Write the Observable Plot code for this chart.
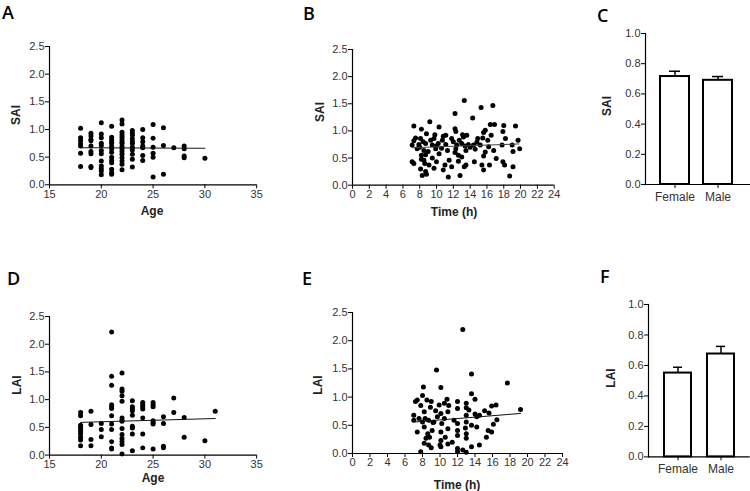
<!DOCTYPE html>
<html>
<head>
<meta charset="utf-8">
<script src="https://cdn.jsdelivr.net/npm/d3@7"></script>
<script src="https://cdn.jsdelivr.net/npm/@observablehq/plot@0.6"></script>
<style>
  body { margin: 0; background: #fff; }
  #fig { position: relative; width: 750px; height: 491px; overflow: hidden; }
</style>
</head>
<body>
<div id="fig"></div>
<script>
// A: SAI by age (values grouped per age column)
const aAge = [18, 19, 20, 21, 22, 23, 24, 25, 26, 27, 28, 30]
const aSAI = [
  [1.02, 0.85, 0.80, 0.74, 0.70, 0.57, 0.33],
  [0.93, 0.88, 0.82, 0.79, 0.70, 0.60, 0.56, 0.33, 0.31],
  [1.12, 0.92, 0.85, 0.75, 0.71, 0.62, 0.56, 0.43, 0.34, 0.29, 0.25, 0.18],
  [1.06, 0.86, 0.81, 0.77, 0.74, 0.69, 0.65, 0.59, 0.50, 0.44, 0.40, 0.28, 0.22, 0.19],
  [1.17, 1.10, 0.95, 0.90, 0.86, 0.81, 0.77, 0.74, 0.69, 0.65, 0.60, 0.55, 0.49, 0.43, 0.37, 0.27],
  [0.98, 0.93, 0.89, 0.83, 0.78, 0.74, 0.68, 0.63, 0.55, 0.46, 0.32],
  [1.00, 0.85, 0.78, 0.70, 0.67, 0.53, 0.44],
  [1.09, 0.84, 0.68, 0.57, 0.50, 0.14],
  [1.03, 0.71, 0.19],
  [0.67],
  [0.70, 0.65, 0.52, 0.49],
  [0.48]
]
const aFit = [[18, 0.67], [30, 0.66]]

// B: SAI by time of day
const bTime = [13.3, 16.7, 15.3, 12.2, 14.3, 7.3, 9.2, 8.2, 10.3, 12.2, 12.3, 16.4, 16.9, 18.0, 19.4, 15.8, 15.6, 17.9,
  8.8, 9.8, 11.1, 13.1, 13.2, 13.6, 7.5, 8.1, 9.7, 10.7, 11.8, 14.9, 15.5, 16.1, 18.2, 19.7, 7.1, 7.9, 8.7, 9.5,
  10.2, 11.1, 12.4, 13.0, 13.8, 14.4, 15.2, 16.2, 17.8, 19.0, 19.9, 7.7, 8.5, 9.9, 11.3, 12.3, 13.5, 14.6, 15.8,
  16.8, 19.1, 8.2, 8.7, 10.3, 12.6, 13.0, 15.6, 17.1, 7.3, 8.5, 9.1, 10.0, 11.0, 11.5, 13.5, 12.6, 14.5, 16.3,
  17.9, 18.1, 19.1, 8.1, 8.7, 9.7, 10.8, 11.8, 13.3, 15.4, 15.6, 8.3, 8.8, 11.4, 12.8, 18.7, 7.1,
  8.0, 8.4, 9.0, 9.3, 10.0, 10.6, 12.0, 12.7, 14.0, 14.8, 16.5, 8.2, 8.6, 9.5, 12.2, 7.3, 10.8, 13.4]
const bSAI = [1.56, 1.47, 1.43, 1.32, 1.24, 1.09, 1.17, 1.03, 1.07, 1.04, 0.99, 1.12, 1.12, 1.10, 1.09, 1.01, 0.97, 0.99,
  0.95, 0.93, 0.92, 0.93, 0.89, 0.92, 0.87, 0.86, 0.86, 0.83, 0.86, 0.86, 0.87, 0.83, 0.86, 0.83, 0.74, 0.75, 0.77, 0.74,
  0.77, 0.75, 0.74, 0.77, 0.75, 0.74, 0.74, 0.71, 0.74, 0.74, 0.67, 0.67, 0.64, 0.67, 0.64, 0.67, 0.64, 0.66, 0.61,
  0.64, 0.62, 0.55, 0.56, 0.58, 0.55, 0.52, 0.54, 0.49, 0.40, 0.46, 0.37, 0.43, 0.37, 0.46, 0.37, 0.44, 0.43, 0.37,
  0.43, 0.37, 0.34, 0.30, 0.25, 0.31, 0.28, 0.34, 0.34, 0.37, 0.28, 0.18, 0.20, 0.15, 0.18, 0.17, 0.43,
  0.70, 0.80, 0.62, 0.83, 0.72, 0.68, 0.80, 0.83, 0.70, 0.79, 0.92, 0.48, 0.40, 0.50, 0.60, 0.82, 0.90, 0.72]
const bFit = [[7.1, 0.69], [19.8, 0.76]]

// C: SAI by sex (mean, SEM)
const sexes = ['Female', 'Male']
const cMean = [0.715, 0.69]
const cSem = [0.035, 0.025]

// D: LAI by age
const dAge = [18, 19, 20, 21, 22, 23, 24, 25, 26, 27, 28, 30, 31]
const dLAI = [
  [0.77, 0.71, 0.54, 0.50, 0.46, 0.42, 0.38, 0.32, 0.27, 0.17],
  [0.79, 0.55, 0.28, 0.17],
  [0.57, 0.46, 0.33],
  [2.22, 1.42, 1.26, 0.91, 0.87, 0.84, 0.71, 0.56, 0.46, 0.24, 0.13, 0.11],
  [1.48, 1.19, 1.15, 1.07, 0.97, 0.67, 0.63, 0.61, 0.48, 0.37, 0.30, 0.24, 0.19, 0.02],
  [0.98, 0.87, 0.84, 0.80, 0.72, 0.52, 0.49, 0.38, 0.08],
  [0.95, 0.91, 0.87, 0.83, 0.67, 0.38, 0.13],
  [0.95, 0.91, 0.87, 0.62, 0.59, 0.56, 0.11],
  [0.69, 0.57, 0.16, 0.13],
  [1.03, 0.77],
  [0.68, 0.32],
  [0.26],
  [0.79]
]
const dFit = [[18, 0.59], [31, 0.66]]

// E: LAI by time of day
const eTime = [12.6, 9.6, 13.6, 17.7, 8.1, 10.1, 13.6, 7.4, 7.2, 8.5, 9.0, 10.8, 12.0, 13.0, 14.0, 7.8, 8.9, 9.9, 10.5,
  12.0, 13.0, 13.3, 15.9, 16.4, 8.2, 9.5, 10.1, 10.9, 13.0, 14.0, 15.1, 15.6, 19.2, 7.0, 7.6, 8.7, 9.7, 10.5, 11.6,
  14.2, 14.5, 7.0, 8.0, 9.3, 10.2, 12.0, 13.0, 13.6, 14.2, 16.1, 7.4, 8.2, 8.6, 9.1, 10.1, 10.9, 12.0, 13.0, 15.5,
  8.4, 8.8, 10.1, 10.6, 12.0, 13.0, 15.3, 8.2, 8.7, 10.1, 10.9, 12.0, 13.6, 14.5, 7.8, 12.0, 12.6, 13.0,
  8.0, 9.2, 10.0, 11.0, 12.9, 16.5, 15.9, 11.4, 9.0, 8.3]
const eLAI = [2.20, 1.48, 1.41, 1.25, 1.18, 1.17, 1.06, 0.95, 0.92, 0.95, 0.92, 0.96, 0.92, 0.89, 0.96, 0.85, 0.82, 0.86, 0.89,
  0.80, 0.81, 0.77, 0.84, 0.86, 0.74, 0.76, 0.71, 0.74, 0.68, 0.70, 0.76, 0.72, 0.78, 0.68, 0.62, 0.59, 0.65, 0.62, 0.59,
  0.65, 0.68, 0.59, 0.56, 0.56, 0.53, 0.53, 0.56, 0.50, 0.47, 0.52, 0.38, 0.47, 0.35, 0.41, 0.38, 0.44, 0.41, 0.35, 0.41,
  0.27, 0.29, 0.23, 0.29, 0.32, 0.27, 0.29, 0.18, 0.15, 0.12, 0.17, 0.09, 0.12, 0.15, 0.03, 0.03, 0.06, 0.02,
  1.03, 0.55, 0.15, 0.85, 0.45, 0.60, 0.38, 0.20, 0.10, 0.62]
const eFit = [[7.2, 0.56], [19.2, 0.71]]

// F: LAI by sex (mean, SEM)
const fMean = [0.55, 0.675]
const fSem = [0.038, 0.05]

const ageTicks = [15, 20, 25, 30, 35]
const timeTicks = d3.range(0, 25, 2)
const indexTicks = [0, 0.5, 1.0, 1.5, 2.0, 2.5]
const sexTicks = [0, 0.2, 0.4, 0.6, 0.8, 1.0]

const fig = d3.select('#fig')
const M = {l: 45, r: 8, t: 8, b: 28}
const style = {fontFamily: '"Liberation Sans", Arial, sans-serif', fontSize: '11px', color: '#333', background: 'transparent', overflow: 'visible'}

function place(chart, box) {
  d3.select(chart).style('position', 'absolute')
    .style('left', (box[0] - M.l) + 'px').style('top', (box[2] - M.t) + 'px')
  fig.append(() => chart)
}

function size(box) {
  return {
    width: box[1] - box[0] + M.l + M.r, height: box[3] - box[2] + M.t + M.b,
    marginLeft: M.l, marginRight: M.r, marginTop: M.t, marginBottom: M.b
  }
}

function scatter(box, pts, fit, xDomain, xTicks, fitColor) {
  const chart = Plot.plot({
    ...size(box),
    style,
    x: {domain: xDomain},
    y: {domain: [0, 2.5]},
    marks: [
      Plot.ruleX([xDomain[0]], {stroke: 'black', strokeWidth: 1.2}),
      Plot.ruleY([0], {stroke: 'black', strokeWidth: 1.2}),
      Plot.axisX({ticks: xTicks, tickSize: 4, tickPadding: 1, label: null, stroke: 'black'}),
      Plot.axisY({ticks: indexTicks, tickFormat: d3.format('.1f'), tickSize: 4, tickPadding: 1, label: null, stroke: 'black'}),
      Plot.dot(pts, {x: 'x', y: 'y', r: 2.5, fill: 'black'}),
      Plot.line(fit, {x: d => d[0], y: d => d[1], stroke: fitColor, strokeWidth: 1})
    ]
  })
  place(chart, box)
}

function bars(box, mean, sem, pad) {
  const rows = sexes.map((s, i) => ({sex: s, mean: mean[i], sem: sem[i]}))
  const chart = Plot.plot({
    ...size(box),
    style,
    x: {type: 'band', domain: sexes, paddingInner: pad[0], paddingOuter: pad[1], align: pad[2]},
    y: {domain: [0, 1]},
    marks: [
      Plot.barY(rows, {x: 'sex', y: 'mean', fill: 'white', stroke: 'black', strokeWidth: 2}),
      Plot.ruleX(rows, {x: 'sex', y1: 'mean', y2: d => d.mean + d.sem, stroke: 'black', strokeWidth: 1.5}),
      Plot.tickY(rows, {x: 'sex', y: d => d.mean + d.sem, insetLeft: 9, insetRight: 9, stroke: 'black', strokeWidth: 1.5}),
      Plot.ruleY([0], {stroke: 'black', strokeWidth: 1.2}),
      Plot.axisX({tickSize: 4, tickPadding: 4, label: null, stroke: 'black', fontSize: 12}),
      Plot.axisY({ticks: sexTicks, tickFormat: d3.format('.1f'), tickSize: 4, tickPadding: 1, label: null, stroke: 'black'}),
      Plot.frame({anchor: 'left', stroke: 'black', strokeWidth: 1.2})
    ]
  })
  place(chart, box)
}

const flat = (xs, ys) => xs.flatMap((x, i) => ys[i].map(y => ({x, y})))
const zipped = (xs, ys) => xs.map((x, i) => ({x, y: ys[i]}))

scatter([49.3, 256.5, 45.7, 184], flat(aAge, aSAI), aFit, [15, 35], ageTicks, '#111')
scatter([352.3, 554, 49.3, 185], zipped(bTime, bSAI), bFit, [0, 24], timeTicks, '#444')
bars([644.5, 750, 33.3, 184.3], cMean, cSem, [0.333, 0.38, 0.44])
scatter([49.3, 256.5, 315.7, 454.3], flat(dAge, dLAI), dFit, [15, 35], ageTicks, '#111')
scatter([352.3, 562.3, 312.3, 453.3], zipped(eTime, eLAI), eFit, [0, 24], timeTicks, '#111')
bars([648.3, 750, 304.3, 456.7], fMean, fSem, [0.364, 0.34, 0.5])

// panel letters and axis titles
const over = fig.append('svg')
  .attr('width', 750).attr('height', 491)
  .style('position', 'absolute').style('left', 0).style('top', 0)

const letters = [['A', 2, 19], ['B', 303, 20], ['C', 597, 22], ['D', 7, 285], ['E', 302, 285], ['F', 600, 283]]
over.selectAll('text.letter').data(letters).join('text')
  .attr('x', d => d[1]).attr('y', d => d[2])
  .attr('font-family', '"Open Sans", sans-serif').attr('font-weight', 600).attr('font-size', 18)
  .text(d => d[0])

const xTitles = [['Age', 152, 215], ['Time (h)', 454, 216], ['Age', 153, 482], ['Time (h)', 457, 489]]
over.selectAll('text.xt').data(xTitles).join('text')
  .attr('x', d => d[1]).attr('y', d => d[2]).attr('text-anchor', 'middle')
  .attr('font-family', '"Liberation Sans", Arial, sans-serif').attr('font-weight', 'bold').attr('font-size', 12)
  .attr('fill', '#222')
  .text(d => d[0])

const yTitles = [['SAI', 16, 115], ['SAI', 320, 112], ['SAI', 607, 106], ['LAI', 17, 385], ['LAI', 318, 385], ['LAI', 611, 378]]
over.selectAll('text.yt').data(yTitles).join('text')
  .attr('transform', d => `translate(${d[1]},${d[2]}) rotate(-90)`)
  .attr('text-anchor', 'middle').attr('dy', '0.35em')
  .attr('font-family', '"Liberation Sans", Arial, sans-serif').attr('font-weight', 'bold').attr('font-size', 12)
  .attr('fill', '#222')
  .text(d => d[0])
</script>
</body>
</html>
